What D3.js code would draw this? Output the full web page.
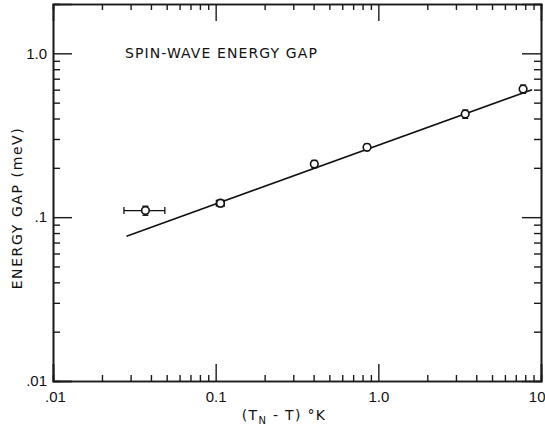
<!DOCTYPE html>
<html>
  <head>
    <meta charset="UTF-8" />
    <script src="https://d3js.org/d3.v7.min.js"></script>
    <style>
      body { margin: 0; background: #fff; }
    </style>
  </head>
  <body>
    <div id="my_dataviz"></div>

    <script>
      // measured points: (T_N - T) in K, energy gap in meV
      var tempDiff = [0.037, 0.107, 0.404, 0.852, 3.42, 7.76];
      var gap = [0.1097, 0.1217, 0.211, 0.267, 0.426, 0.605];
      var xErrLow = [0.0273, 0.101, 0.404, 0.852, 3.42, 7.76];
      var xErrHigh = [0.0487, 0.113, 0.404, 0.852, 3.42, 7.76];
      var gapErr = [0.007, 0.006, 0.011, 0.012, 0.025, 0.035];

      // fitted line end points
      var fitX = [0.0283, 8.81];
      var fitY = [0.0766, 0.6];

      var xMajor = [0.01, 0.1, 1, 10];
      var xMajorLabels = [".01", "0.1", "1.0", "10"];
      var yMajor = [0.01, 0.1, 1];
      var yMajorLabels = [".01", ".1", "1.0"];

      var margin = { top: 4, right: 4, bottom: 48, left: 53 },
        width = 545 - margin.left - margin.right,
        height = 429 - margin.top - margin.bottom;

      var svg = d3.select("#my_dataviz").append("svg")
        .attr("width", 545).attr("height", 429)
        .style("color", "#1a1a1a")
        .style("font-family", "'DejaVu Sans', sans-serif");
      var g = svg.append("g").attr("transform", "translate(" + margin.left + "," + margin.top + ")");

      var xScale = d3.scaleLog().domain([0.01, 10]).range([0, width]);
      var yScale = d3.scaleLog().domain([0.01, 2.0]).range([height, 0]);

      // minor ticks 2..9 of every decade
      var xMinor = [];
      [0.01, 0.1, 1].forEach(function (d) { for (var k = 2; k <= 9; k++) xMinor.push(d * k); });
      var yMinor = [];
      [0.01, 0.1].forEach(function (d) { for (var k = 2; k <= 9; k++) yMinor.push(d * k); });

      // bottom
      var bMinor = g.append("g").attr("transform", "translate(0," + height + ")")
        .call(d3.axisBottom(xScale).tickValues(xMinor).tickSize(-6).tickFormat(""));
      var bMajor = g.append("g").attr("transform", "translate(0," + height + ")")
        .call(d3.axisBottom(xScale).tickValues(xMajor).tickSize(-17).tickPadding(10)
          .tickFormat(function (d, i) { return xMajorLabels[i]; }));
      // top
      var tMinor = g.append("g").call(d3.axisTop(xScale).tickValues(xMinor).tickSize(-6).tickFormat(""));
      var tMajor = g.append("g").call(d3.axisTop(xScale).tickValues(xMajor.slice(1, 3)).tickSize(-17).tickFormat(""));
      // left
      var lMinor = g.append("g").call(d3.axisLeft(yScale).tickValues(yMinor).tickSize(-7).tickFormat(""));
      var lMajor = g.append("g")
        .call(d3.axisLeft(yScale).tickValues(yMajor).tickSize(-19).tickPadding(6)
          .tickFormat(function (d, i) { return yMajorLabels[i]; }));
      // right
      var rMinor = g.append("g").attr("transform", "translate(" + width + ",0)")
        .call(d3.axisRight(yScale).tickValues(yMinor).tickSize(-7).tickFormat(""));
      var rMajor = g.append("g").attr("transform", "translate(" + width + ",0)")
        .call(d3.axisRight(yScale).tickValues(yMajor.slice(1)).tickSize(-19).tickFormat(""));

      // give every tick line full coordinates and its own stroke
      [bMinor, bMajor, tMinor, tMajor].forEach(function (a) {
        a.selectAll(".tick line").attr("x1", 0).attr("x2", 0).attr("y1", 0);
      });
      [lMinor, lMajor, rMinor, rMajor].forEach(function (a) {
        a.selectAll(".tick line").attr("y1", 0).attr("y2", 0).attr("x1", 0);
      });
      g.selectAll(".tick line").attr("stroke", "#1a1a1a").attr("stroke-width", 1.4);
      g.selectAll(".domain").attr("stroke", "#1a1a1a").attr("stroke-width", 1.6);
      g.selectAll(".tick text").attr("fill", "#111").style("font-size", "15px");
      bMajor.selectAll(".tick").filter(function (d) { return d === 0.01; })
        .select("text").attr("dx", 2);
      bMajor.selectAll(".tick").filter(function (d) { return d === 10; })
        .select("text").attr("text-anchor", "end").attr("dx", 4);

      // fit line
      var fitData = fitX.map(function (x, i) { return { x: x, y: fitY[i] }; });
      g.append("path")
        .datum(fitData)
        .attr("fill", "none")
        .attr("stroke", "#111")
        .attr("stroke-width", 1.6)
        .attr("d", d3.line().x(function (d) { return xScale(d.x); }).y(function (d) { return yScale(d.y); }));

      // data with error bars
      var pts = tempDiff.map(function (x, i) {
        return { x: x, y: gap[i], xl: xErrLow[i], xh: xErrHigh[i], e: gapErr[i] };
      });
      var pg = g.selectAll(".pt").data(pts).join("g").attr("class", "pt");

      pg.filter(function (d) { return d.xh > d.xl; })
        .each(function (d) {
          var s = d3.select(this);
          var y = yScale(d.y);
          s.append("line").attr("x1", xScale(d.xl)).attr("x2", xScale(d.xh))
            .attr("y1", y).attr("y2", y).attr("stroke", "#111").attr("stroke-width", 1.3);
          [d.xl, d.xh].forEach(function (v) {
            s.append("line").attr("x1", xScale(v)).attr("x2", xScale(v))
              .attr("y1", y - 3.5).attr("y2", y + 3.5).attr("stroke", "#111").attr("stroke-width", 1.3);
          });
        });

      pg.each(function (d) {
        var s = d3.select(this);
        var x = xScale(d.x);
        var y0 = yScale(d.y - d.e), y1 = yScale(d.y + d.e);
        s.append("line").attr("x1", x).attr("x2", x).attr("y1", y0).attr("y2", y1)
          .attr("stroke", "#111").attr("stroke-width", 1.3);
        [y0, y1].forEach(function (y) {
          s.append("line").attr("x1", x - 3).attr("x2", x + 3).attr("y1", y).attr("y2", y)
            .attr("stroke", "#111").attr("stroke-width", 1.3);
        });
      });

      pg.append("circle")
        .attr("cx", function (d) { return xScale(d.x); })
        .attr("cy", function (d) { return yScale(d.y); })
        .attr("r", 3.8)
        .attr("fill", "#fff")
        .attr("stroke", "#111")
        .attr("stroke-width", 1.6);

      // title inside plot
      svg.append("text")
        .attr("x", 125).attr("y", 58)
        .attr("fill", "#111")
        .style("font-size", "14px")
        .style("letter-spacing", "1.1px")
        .text("SPIN-WAVE ENERGY GAP");

      // y axis title
      svg.append("text")
        .attr("transform", "translate(22,208) rotate(-90)")
        .attr("text-anchor", "middle")
        .attr("fill", "#111")
        .style("font-size", "14px")
        .style("letter-spacing", "1.6px")
        .text("ENERGY GAP (meV)");

      // x axis title
      var xt = svg.append("text")
        .attr("x", 284).attr("y", 420)
        .attr("text-anchor", "middle")
        .attr("fill", "#111")
        .style("font-size", "14px")
        .style("letter-spacing", "1.3px");
      xt.append("tspan").text("(T");
      xt.append("tspan").attr("dy", 4).style("font-size", "10px").text("N");
      xt.append("tspan").attr("dy", -4).text(" - T) \u00b0K");
    </script>
  </body>
</html>
